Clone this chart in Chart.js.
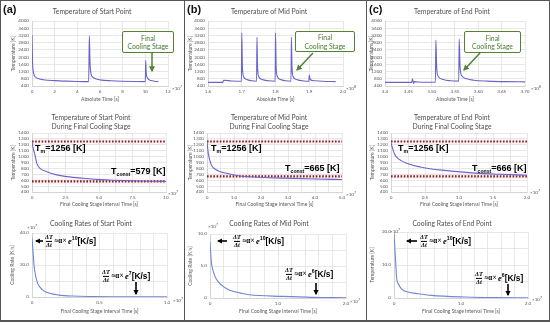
<!DOCTYPE html>
<html><head><meta charset="utf-8">
<script src="https://cdn.jsdelivr.net/npm/chart.js@4.4.1/dist/chart.umd.min.js"></script>
<style>
html,body{margin:0;padding:0;background:#fff;}
#root{position:relative;width:550px;height:325px;overflow:hidden;font-family:Lato,"Open Sans",sans-serif;}
canvas{position:absolute;}
.t{position:absolute;white-space:nowrap;line-height:1;}
.ttl{color:#505050;font-size:6.8px;transform:translate(-50%,-50%);text-align:center;line-height:9px;}
.lbl{font:bold 11px "Liberation Sans",Arial,sans-serif;color:#111;}
.box{position:absolute;border:1.4px solid #548235;border-radius:2px;background:#fff;color:#4a7a30;font-size:6.8px;text-align:center;line-height:8.5px;display:flex;align-items:center;justify-content:center;box-sizing:border-box;}
.tm{font:bold 9px "Liberation Sans",Arial,sans-serif;color:#000;transform:translateY(-50%);}
.tm sub{font-size:5.2px;vertical-align:-2px;}
.exp{font-size:4.6px;color:#595959;transform:translateY(-50%);}
.exp sup{font-size:3.6px;vertical-align:2px;}
.eq{display:flex;align-items:center;transform:translateY(-50%);color:#000;}
.fr{display:inline-flex;flex-direction:column;align-items:center;font:italic bold 6.4px "Liberation Serif",serif;line-height:6.6px;margin-right:1.5px;}
.fr .dn{border-top:0.8px solid #000;}
.rel{font:bold 7.2px "Liberation Serif",serif;}
.ee{font:italic bold 8.5px "Liberation Serif",serif;margin-left:1.5px;}
.sp{font:bold 5.2px "Liberation Sans",Arial,sans-serif;position:relative;top:-3px;}
.ks{font:bold 8.4px "Liberation Sans",Arial,sans-serif;}
.ln{position:absolute;background:#555;}
</style></head><body><div id="root"></div>
<script>
// ---------------- DATA ----------------
// Row 1: temperature vs absolute time
const startTime = [0, 0.05, 0.15, 0.3, 0.6, 1.0, 2.0, 3.0, 4.0, 5.0, 5.06, 5.12, 5.2, 5.35, 5.6, 6.0, 7.0, 8.0, 9.0, 10.0, 10.03, 10.08, 10.15, 10.3, 10.5, 10.8, 11.15];
const startTemp = [3230, 1700, 1100, 900, 800, 750, 700, 670, 650, 640, 3180, 1700, 1100, 900, 800, 740, 690, 665, 650, 640, 1820, 1100, 900, 760, 700, 660, 640];
const midTime = [1.600, 1.644, 1.646, 1.670, 1.699, 1.700, 1.702, 1.706, 1.715, 1.730, 1.744, 1.745, 1.747, 1.751, 1.760, 1.780, 1.799, 1.800, 1.802, 1.806, 1.815, 1.830, 1.846, 1.847, 1.849, 1.853, 1.862, 1.880, 1.899, 1.900, 1.903, 1.915, 1.940, 1.978];
const midTemp = [600, 600, 720, 680, 660, 3350, 1400, 900, 760, 690, 665, 3100, 1400, 900, 760, 690, 665, 3350, 1400, 900, 760, 690, 665, 3100, 1400, 900, 760, 690, 660, 1000, 760, 690, 660, 640];
const endTime = [3.400, 3.457, 3.459, 3.461, 3.463, 3.470, 3.490, 3.508, 3.509, 3.511, 3.515, 3.525, 3.540, 3.558, 3.559, 3.561, 3.565, 3.575, 3.590, 3.620, 3.660, 3.700];
const endTemp = [600, 600, 800, 540, 640, 620, 610, 610, 2950, 1300, 900, 760, 690, 670, 3000, 1400, 950, 800, 720, 670, 640, 630];

// Row 2: temperature during final cooling stage
const startCoolTime = [0, 0.1, 0.22, 0.35, 0.6, 1.1, 1.84, 2.6, 3.8, 5.1, 6.0, 7.0, 8.0, 9.0, 10.0];
const startCoolTemp = [1256, 1130, 1030, 890, 800, 745, 690, 660, 632, 610, 600, 592, 586, 582, 579];
const midCoolTime = [0, 0.05, 0.16, 0.35, 0.72, 1.21, 1.95, 2.8, 4.05, 5.0];
const midCoolTemp = [1256, 1050, 860, 773, 717, 672, 650, 635, 620, 612];
const endCoolTime = [0, 0.05, 0.11, 0.25, 0.45, 0.75, 1.24, 1.6, 2.0];
const endCoolTemp = [1230, 1050, 960, 880, 820, 770, 720, 700, 685];
const tMelt = 1256;
const tConst = [579, 665, 666];

// Row 3: cooling rates
const startRateTime = [0, 0.008, 0.015, 0.025, 0.04, 0.06, 0.085, 0.13, 0.2, 0.3, 0.45, 0.6, 0.8, 1.0];
const startRate = [37, 28, 20, 14, 9, 6, 4, 2.3, 1.2, 0.6, 0.3, 0.15, 0.08, 0.05];
const midRateTime = [0, 0.02, 0.044, 0.09, 0.17, 0.29, 0.44, 0.58, 1.07, 1.5, 2.0];
const midRate = [8.75, 5.6, 4.3, 3.0, 2.0, 1.2, 0.8, 0.5, 0.25, 0.1, 0.05];
const endRateTime = [0, 0.025, 0.04, 0.065, 0.11, 0.21, 0.36, 0.56, 1.06, 1.5, 2.0];
const endRate = [19.5, 10.9, 5.9, 4.3, 2.8, 1.8, 1.3, 0.8, 0.3, 0.1, 0.05];

// Tick labels
const tempYLabels1 = ['400','800','1200','1600','2000','2400','2800','3200','3600','4000'];
const startXLabels1 = ['0','2','4','6','8','10','12'];
const midXLabels1 = ['1.6','1.7','1.8','1.9','2.0'];
const endXLabels1 = ['3.4','3.45','3.50','3.55','3.60','3.65','3.70'];
const tempYLabels2 = ['400','500','600','700','800','900','1000','1100','1200','1300','1400'];
const startXLabels2 = ['0','2.5','5.0','7.5','10'];
const midXLabels2 = ['0','1.0','2.0','3.0','4.0','5.0'];
const endXLabels2 = ['0','0.5','1.0','1.5','2.0'];
const startYLabels3 = ['0','20.0','40.0'];
const startXLabels3 = ['0','0.5','1.0'];
const midYLabels3 = ['0','5.0','10.0'];
const midXLabels3 = ['0','1.0','2.0'];
const endYLabels3 = ['0','10.0','20.0'];
const endXLabels3 = ['0','1.0','2.0'];

// ---------------- RENDER ----------------
const root = document.getElementById('root');
const FAM = 'Lato, "Open Sans", sans-serif';
const GRID = '#e2e2e2';
const TXT = '#595959';
const LINE12 = '#6b64c8';
const LINE3 = '#6f86d6';
const DOT = '#7e2419';

const pts = (xs, ys) => xs.map((x, i) => ({x, y: ys[i]}));

const bandPlugin = {
  id: 'bands',
  beforeDatasetsDraw(chart, args, opts) {
    if (!opts || !opts.list) return;
    const {ctx, chartArea, scales} = chart;
    ctx.save();
    opts.list.forEach(b => {
      const y1 = scales.y.getPixelForValue(b[0]);
      const y2 = scales.y.getPixelForValue(b[1]);
      ctx.fillStyle = 'rgba(255,170,205,0.16)';
      ctx.fillRect(chartArea.left, Math.min(y1, y2), chartArea.right - chartArea.left, Math.abs(y2 - y1));
    });
    ctx.restore();
  }
};

function axis(labels, minorStep, titleText, fit, titlePad) {
  const vals = labels.map(parseFloat);
  const min = vals[0], max = vals[vals.length - 1];
  return {
    type: 'linear', min, max,
    afterFit: fit,
    afterBuildTicks: sc => {
      const n = Math.round((max - min) / minorStep);
      const t = [];
      for (let k = 0; k <= n; k++) t.push({value: min + k * minorStep});
      sc.ticks = t;
    },
    ticks: {
      autoSkip: false, maxRotation: 0, padding: 3, color: TXT,
      font: {family: FAM, size: 4.6},
      callback: v => {
        const i = vals.findIndex(q => Math.abs(q - v) < minorStep * 0.01);
        return i >= 0 ? labels[i] : '';
      }
    },
    grid: {color: GRID, drawTicks: false, lineWidth: 0.8},
    border: {color: '#d4d4d4'},
    title: {display: true, text: titleText, color: TXT, font: {family: FAM, size: 5}, padding: titlePad}
  };
}

function makeChart(s) {
  const [cx, cy, cw, ch] = s.cell;
  const [px1, py1, px2, py2] = s.plot;
  const lh = 6;
  const xH = s.xTitleY + lh / 2 - py2;
  const padB = Math.max(0, cy + ch - (py2 + xH));
  const cv = document.createElement('canvas');
  cv.width = cw; cv.height = ch;
  cv.style.left = cx + 'px'; cv.style.top = cy + 'px';
  cv.style.width = cw + 'px'; cv.style.height = ch + 'px';
  root.appendChild(cv);
  const xv = s.xLabels.map(parseFloat);
  const datasets = [{
    data: pts(s.xs, s.ys), borderColor: s.color, borderWidth: 1.1,
    pointRadius: 0, cubicInterpolationMode: 'monotone', fill: false
  }];
  (s.hlines || []).forEach(v => datasets.push({
    data: [{x: xv[0], y: v}, {x: xv[xv.length - 1], y: v}],
    borderColor: DOT, borderWidth: 2.2, borderDash: [1.6, 1.6], pointRadius: 0, fill: false
  }));
  new Chart(cv, {
    type: 'line',
    data: {datasets},
    options: {
      responsive: false, animation: false, devicePixelRatio: 1,
      layout: {padding: {left: 0, top: py1 - cy, right: cx + cw - px2, bottom: padB}},
      plugins: {
        legend: {display: false}, tooltip: {enabled: false}, title: {display: false},
        bands: {list: (s.hlines || []).map(v => [v - 50, v + 50])}
      },
      scales: {
        x: axis(s.xLabels, s.xStep, s.xTitle, sc => { sc.height = xH; }, {top: 0, bottom: 0}),
        y: axis(s.yLabels, s.yStep, s.yTitle, sc => { sc.width = px1 - cx; }, {top: s.yTitleX - cx - lh / 2, bottom: 0})
      }
    },
    plugins: [bandPlugin]
  });
}

const colA = [2, 181], colB = [186, 179], colC = [368, 180];
const r1 = [2, 102], r2 = [104, 104], r3 = [210, 108];
const cell = (c, r) => [c[0], r[0], c[1], r[1]];

const specs = [
  {cell: cell(colA, r1), plot: [32, 21, 168, 86], xTitleY: 99, yTitleX: 13, xs: startTime, ys: startTemp, color: LINE12,
   xLabels: startXLabels1, xStep: 2, yLabels: tempYLabels1, yStep: 400, xTitle: 'Absolute Time [s]', yTitle: 'Temperature [K]'},
  {cell: cell(colB, r1), plot: [208, 21, 343, 86], xTitleY: 99, yTitleX: 190, xs: midTime, ys: midTemp, color: LINE12,
   xLabels: midXLabels1, xStep: 0.1, yLabels: tempYLabels1, yStep: 400, xTitle: 'Absolute Time [s]', yTitle: 'Temperature [K]'},
  {cell: cell(colC, r1), plot: [385, 21, 525, 86], xTitleY: 99, yTitleX: 371, xs: endTime, ys: endTemp, color: LINE12,
   xLabels: endXLabels1, xStep: 0.05, yLabels: tempYLabels1, yStep: 400, xTitle: 'Absolute Time [s]', yTitle: 'Temperature [K]'},
  {cell: cell(colA, r2), plot: [32, 133, 166, 192], xTitleY: 204, yTitleX: 13, xs: startCoolTime, ys: startCoolTemp, color: LINE12, hlines: [tMelt, tConst[0]],
   xLabels: startXLabels2, xStep: 1.25, yLabels: tempYLabels2, yStep: 100, xTitle: 'Final Cooling Stage Interval Time [s]', yTitle: 'Temperature [K]'},
  {cell: cell(colB, r2), plot: [207, 133, 342, 192], xTitleY: 204, yTitleX: 190, xs: midCoolTime, ys: midCoolTemp, color: LINE12, hlines: [tMelt, tConst[1]],
   xLabels: midXLabels2, xStep: 0.5, yLabels: tempYLabels2, yStep: 100, xTitle: 'Final Cooling Stage Interval Time [s]', yTitle: 'Temperature [K]'},
  {cell: cell(colC, r2), plot: [391, 133, 527, 192], xTitleY: 204, yTitleX: 372, xs: endCoolTime, ys: endCoolTemp, color: LINE12, hlines: [tMelt, tConst[2]],
   xLabels: endXLabels2, xStep: 0.25, yLabels: tempYLabels2, yStep: 100, xTitle: 'Final Cooling Stage Interval Time [s]', yTitle: 'Temperature [K]'},
  {cell: cell(colA, r3), plot: [32, 233, 167, 297], xTitleY: 311, yTitleX: 12, xs: startRateTime, ys: startRate, color: LINE3,
   xLabels: startXLabels3, xStep: 0.1, yLabels: startYLabels3, yStep: 10, xTitle: 'Final Cooling Stage Interval Time [s]', yTitle: 'Cooling Rate [K/s]'},
  {cell: cell(colB, r3), plot: [210, 234, 346, 298], xTitleY: 311, yTitleX: 190, xs: midRateTime, ys: midRate, color: LINE3,
   xLabels: midXLabels3, xStep: 0.2, yLabels: midYLabels3, yStep: 2.5, xTitle: 'Final Cooling Stage Interval Time [s]', yTitle: 'Cooling Rate [K/s]'},
  {cell: cell(colC, r3), plot: [394, 232, 528, 298], xTitleY: 311, yTitleX: 372, xs: endRateTime, ys: endRate, color: LINE3,
   xLabels: endXLabels3, xStep: 0.2, yLabels: endYLabels3, yStep: 5, xTitle: 'Final Cooling Stage Interval Time [s]', yTitle: 'Temperature [K]'}
];
specs.forEach(makeChart);

// ---------------- OVERLAY TEXT ----------------
function add(html, cls, left, top, extra) {
  const d = document.createElement('div');
  d.className = 't ' + cls;
  d.innerHTML = html;
  d.style.left = left + 'px'; d.style.top = top + 'px';
  if (extra) d.style.cssText += extra;
  root.appendChild(d);
  return d;
}
// panel letters
add('(a)', 'lbl', 3, 3); add('(b)', 'lbl', 187, 3); add('(c)', 'lbl', 369, 3);
// titles
add('Temperature of Start Point', 'ttl', 92, 11);
add('Temperature of Mid Point', 'ttl', 269, 11);
add('Temperature of End Point', 'ttl', 452, 11);
add('Temperature of Start Point<br>During Final Cooling Stage', 'ttl', 91, 121.5);
add('Temperature of Mid Point<br>During Final Cooling Stage', 'ttl', 269, 121.5);
add('Temperature of End Point<br>During Final Cooling Stage', 'ttl', 452, 121.5);
add('Cooling Rates of Start Point', 'ttl', 91, 223);
add('Cooling Rates of Mid Point', 'ttl', 269, 223);
add('Cooling Rates of End Point', 'ttl', 452, 223);
// exponents
const e7 = '×10<sup>7</sup>', e8 = '×10<sup>8</sup>';
add(e7, 'exp', 172, 88); add(e8, 'exp', 346, 88); add(e8, 'exp', 531, 88);
add(e7, 'exp', 168, 193); add(e7, 'exp', 346, 194); add(e7, 'exp', 530, 192);
add(e7, 'exp', 27, 227); add(e7, 'exp', 173, 300);
add(e7, 'exp', 208, 226); add(e7, 'exp', 350, 301);
add(e7, 'exp', 390, 231); add(e7, 'exp', 532, 299);
// Final Cooling Stage boxes
function box(l, t, w, h) {
  const d = document.createElement('div');
  d.className = 'box';
  d.innerHTML = 'Final<br>Cooling Stage';
  d.style.cssText += `left:${l}px;top:${t}px;width:${w}px;height:${h}px;`;
  root.appendChild(d);
}
box(122, 31, 52, 22); box(295, 31, 60, 21); box(464, 31, 57, 22);
// Tm / Tconst labels
const tmH = 'T<sub>m</sub>=' + tMelt + ' [K]';
const tcH = v => 'T<sub>const</sub>=' + v + ' [K]';
add(tmH, 'tm', 35, 148); add(tcH(tConst[0]), 'tm', 111, 171);
add(tmH, 'tm', 211, 148); add(tcH(tConst[1]), 'tm', 285, 168);
add(tmH, 'tm', 398, 148); add(tcH(tConst[2]), 'tm', 472, 168);
// cooling rate equations
const eq = ex => '<span class="fr"><span>ΔT</span><span class="dn">Δt</span></span><span class="rel">≈α×</span><span class="ee">e</span><span class="sp">' + ex + '</span><span class="ks">[K/s]</span>';
add(eq(10), 'eq', 45, 241); add(eq(7), 'eq', 102, 276);
add(eq(10), 'eq', 233, 241); add(eq(6), 'eq', 285, 274);
add(eq(10), 'eq', 420, 241); add(eq(6), 'eq', 475, 278);

// frame lines
const frame = [[0,0,550,1],[0,0,1,321],[549,0,1,321],[0,320,550,1.5],[183.5,0,1.5,321],[365.5,0,1.5,321]];
frame.forEach(f => { const d = document.createElement('div'); d.className = 'ln'; d.style.cssText += `left:${f[0]}px;top:${f[1]}px;width:${f[2]}px;height:${f[3]}px;`; root.appendChild(d); });

// arrows
const NS = 'http://www.w3.org/2000/svg';
const svg = document.createElementNS(NS, 'svg');
svg.setAttribute('width', 550); svg.setAttribute('height', 325);
svg.style.cssText = 'position:absolute;left:0;top:0;pointer-events:none';
svg.innerHTML = `<defs>
<marker id="hg" markerWidth="4" markerHeight="4" refX="3.2" refY="2" orient="auto" markerUnits="strokeWidth"><path d="M0,0 L4,2 L0,4 z" fill="#548235"/></marker>
<marker id="hk" markerWidth="3.5" markerHeight="3.5" refX="2.8" refY="1.75" orient="auto" markerUnits="strokeWidth"><path d="M0,0 L3.5,1.75 L0,3.5 z" fill="#000"/></marker>
</defs>`;
const arrows = [
  [152, 53, 152, 71, '#548235', 1.5, 'hg'], [313, 53, 297, 70, '#548235', 1.5, 'hg'], [480, 53, 464, 70, '#548235', 1.5, 'hg'],
  [43, 241, 36, 241, '#000', 1.6, 'hk'], [227, 241, 218, 241, '#000', 1.6, 'hk'], [417, 241, 407, 241, '#000', 1.6, 'hk'],
  [136, 282, 136, 294, '#000', 1.6, 'hk'], [316, 283, 316, 294, '#000', 1.6, 'hk'], [508, 284, 508, 295, '#000', 1.6, 'hk']
];
arrows.forEach(a => {
  const l = document.createElementNS(NS, 'line');
  l.setAttribute('x1', a[0]); l.setAttribute('y1', a[1]); l.setAttribute('x2', a[2]); l.setAttribute('y2', a[3]);
  l.setAttribute('stroke', a[4]); l.setAttribute('stroke-width', a[5]); l.setAttribute('marker-end', `url(#${a[6]})`);
  svg.appendChild(l);
});
root.appendChild(svg);
</script>
</body></html>
